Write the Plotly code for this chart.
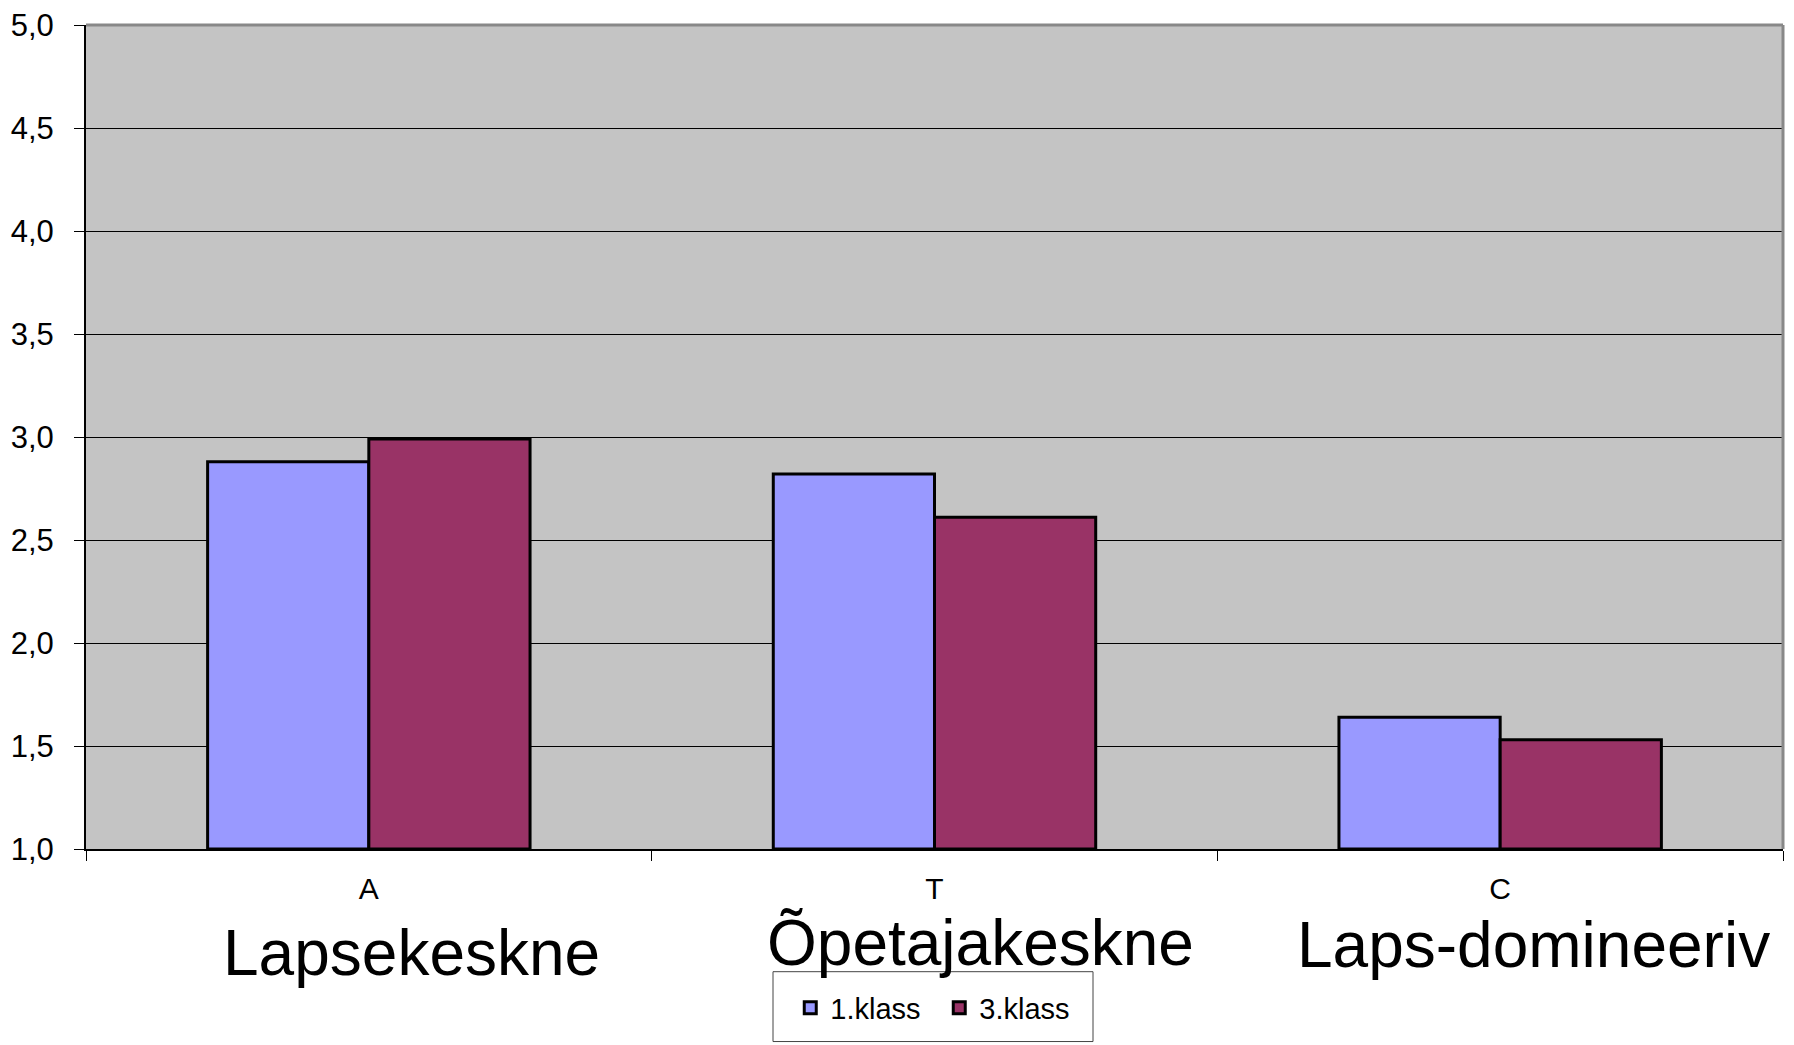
import plotly.graph_objects as go

categories = ["A", "T", "C"]
series_names = ["1.klass", "3.klass"]
klass1 = [2.88, 2.82, 1.64]
klass3 = [2.99, 2.61, 1.53]
group_labels = ["Lapsekeskne", "Õpetajakeskne", "Laps-domineeriv"]
y_ticks = [1.0, 1.5, 2.0, 2.5, 3.0, 3.5, 4.0, 4.5, 5.0]

colors = ["#9999FF", "#993366"]
FONT = "Liberation Sans, Arial, sans-serif"

fig = go.Figure()
for name, vals, col in zip(series_names, [klass1, klass3], colors):
    fig.add_trace(go.Bar(
        x=categories, y=[v - 1.0 for v in vals], base=1.0, name=name,
        marker=dict(color=col, line=dict(color="black", width=3)),
    ))

fig.update_layout(
    width=1794, height=1045,
    margin=dict(l=86, r=11, t=25, b=194),
    paper_bgcolor="white", plot_bgcolor="#C4C4C4",
    barmode="group", bargap=0.43, bargroupgap=0,
    separators=",.",
    font=dict(family=FONT, color="black", size=30),
    showlegend=True,
    legend=dict(orientation="h", x=0.415, y=-0.162, xanchor="left", yanchor="top",
                bgcolor="rgba(0,0,0,0)", borderwidth=0,
                font=dict(size=29, family=FONT), entrywidth=104, entrywidthmode="pixels",
                itemwidth=30),
)
fig.update_yaxes(range=[1, 5], tickvals=y_ticks, tickformat=".1f", automargin=False,
                 showgrid=True, gridcolor="black", gridwidth=1,
                 showline=True, linecolor="black", linewidth=2,
                 ticks="outside", ticklen=10, tickcolor="black", tickwidth=1,
                 ticklabelstandoff=14, zeroline=False,
                 tickfont=dict(size=31, family=FONT))
fig.update_xaxes(showline=True, linecolor="black", linewidth=2, automargin=False,
                 ticks="outside", ticklen=10, tickcolor="black", tickwidth=1,
                 tickson="boundaries", ticklabelstandoff=12,
                 tickfont=dict(size=30, family=FONT))

# top & right gray frame
fig.add_shape(type="line", xref="paper", yref="paper", x0=0, x1=1, y0=1, y1=1,
              line=dict(color="#888888", width=3))
fig.add_shape(type="line", xref="paper", yref="paper", x0=1, x1=1, y0=0, y1=1,
              line=dict(color="#888888", width=3))
# legend box
fig.add_shape(type="rect", xref="paper", yref="paper",
              x0=(773 - 86) / 1697, x1=(1093 - 86) / 1697,
              y0=(851 - 1044) / 826, y1=(851 - 974) / 826,
              line=dict(color="#444444", width=1), fillcolor="white", layer="below")

label_pos = [(0.192, -0.126), (0.527, -0.1135), (0.853, -0.117)]
for text, (px, py) in zip(group_labels, label_pos):
    fig.add_annotation(text=text, xref="paper", yref="paper", x=px, y=py,
                       xanchor="center", yanchor="middle", showarrow=False,
                       font=dict(size=64, family=FONT, color="black"))

fig.write_html("out.html", config={"displayModeBar": False},
               post_script="document.body.style.margin='0';")
